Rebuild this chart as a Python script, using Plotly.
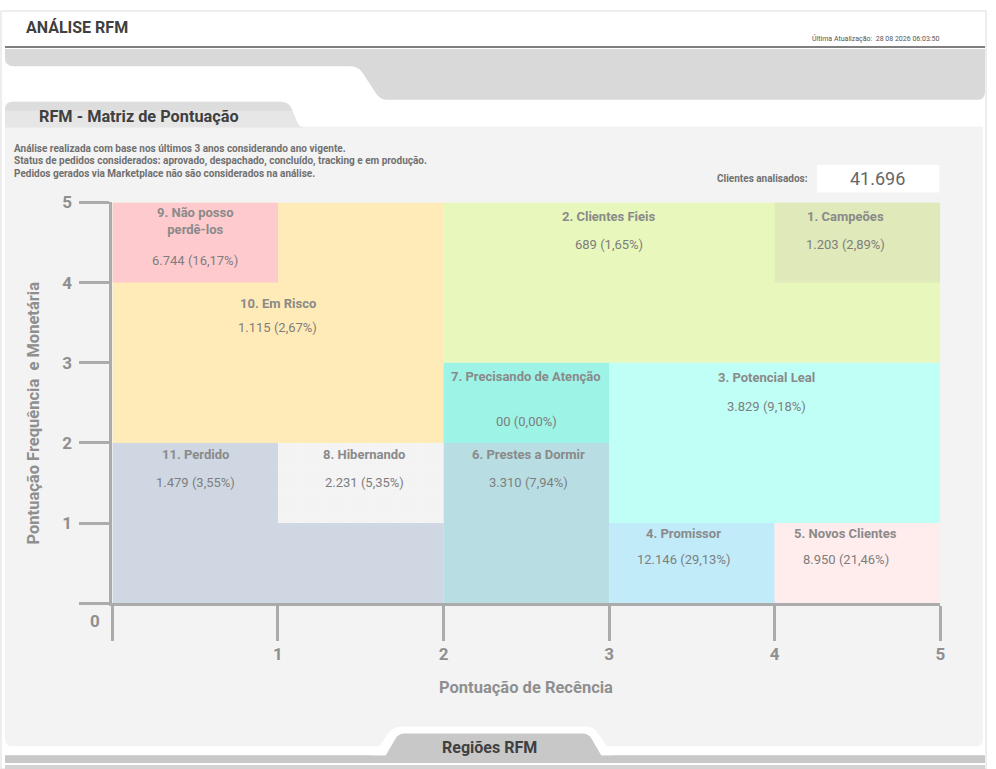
import plotly.graph_objects as go

# ---------------- data ----------------
segments = ["1. Campeões", "2. Clientes Fieis", "3. Potencial Leal", "4. Promissor",
            "5. Novos Clientes", "6. Prestes a Dormir", "7. Precisando de Atenção",
            "8. Hibernando", "9. Não posso<br>perdê-los", "10. Em Risco", "11. Perdido"]
counts = [1203, 689, 3829, 12146, 8950, 3310, 0, 2231, 6744, 1115, 1479]
pcts = [2.89, 1.65, 9.18, 29.13, 21.46, 7.94, 0.00, 5.35, 16.17, 2.67, 3.55]
# score ranges of each region (recency x, frequency&monetary y)
rec_min = [4, 2, 3, 3, 4, 2, 2, 1, 0, 0, 0]
rec_max = [5, 5, 5, 4, 5, 3, 3, 2, 1, 2, 2]
fm_min = [4, 3, 1, 0, 0, 0, 2, 1, 4, 2, 0]
fm_max = [5, 5, 3, 1, 1, 2, 3, 2, 5, 5, 2]
total_clients = 41696
tick_vals = [0, 1, 2, 3, 4, 5]
tick_text = ["", "1", "2", "3", "4", "5"]

# ---------------- styles ----------------
colors = ["#DFE9B9", "#E8F7BB", "#C0FFF6", "#C2EBFA", "#FFEDED", "#B8DEE4",
          "#9DF3E6", "#F1F1F1", "#FFCACD", "#FFEBB7", "#CFD8E2"]
# label anchors (x, title y, value y) in axis units
label_pos = [(4.43, 4.82, 4.47), (3.0, 4.82, 4.47), (3.95, 2.82, 2.45), (3.45, 0.87, 0.54),
             (4.43, 0.87, 0.54), (2.51, 1.86, 1.51), (2.50, 2.83, 2.27), (1.52, 1.86, 1.51),
             (0.50, 4.77, 4.27), (1.00, 3.74, 3.44), (0.50, 1.86, 1.51)]

W, H = 996, 769
def X(p): return p / W
def Y(p): return 1 - p / H

FONT = "Roboto"
AX = "#ABABAB"


def fmt_int(n):
    if n == 0:
        return "00"
    return f"{n:,}".replace(",", ".")


def fmt_pct(p):
    return f"{p:.2f}".replace(".", ",") + "%"


fig = go.Figure()

order = sorted(range(len(segments)),
               key=lambda i: -(rec_max[i] - rec_min[i]) * (fm_max[i] - fm_min[i]))
for i in order:
    extra = {}
    if i == 7:
        extra["fillpattern"] = dict(shape=".", bgcolor=colors[i], fgcolor="#FFFFFF",
                                    size=3, solidity=0.35)
    fig.add_trace(go.Scatter(
        x=[rec_min[i], rec_max[i], rec_max[i], rec_min[i], rec_min[i]],
        y=[fm_min[i], fm_min[i], fm_max[i], fm_max[i], fm_min[i]],
        mode="lines", fill="toself", fillcolor=colors[i],
        line=dict(width=0, color=colors[i]), hoverinfo="skip", showlegend=False, **extra))

annotations = []


def note(px, py, text, size, color, xanchor="center", **kw):
    annotations.append(dict(x=X(px), y=Y(py), xref="paper", yref="paper", text=text,
                            xanchor=xanchor, yanchor="middle", showarrow=False,
                            font=dict(family=FONT, size=size, color=color), **kw))


for i, name in enumerate(segments):
    lx, ty, vy = label_pos[i]
    annotations.append(dict(x=lx, y=ty, xref="x", yref="y", text=f"<b>{name}</b>",
                            xanchor="center", yanchor="middle",
                            showarrow=False, font=dict(family=FONT, size=13, color="#8A8A8A")))
    annotations.append(dict(x=lx, y=vy, xref="x", yref="y",
                            text=f"{fmt_int(counts[i])} ({fmt_pct(pcts[i])})",
                            xanchor="center", yanchor="middle",
                            showarrow=False, font=dict(family=FONT, size=13, color="#7E7E7E")))

# origin label
note(95, 619, "<b>0</b>", 17, "#8F8F8F")
# axis titles
note(529, 686, "<b>Pontuação de Recência</b>", 16.5, "#8F8F8F")
note(34, 408, "<b>Pontuação Frequência  e Monetária</b>", 16.5, "#8F8F8F", textangle=-90)
# header texts
note(24, 18, "<b>ANÁLISE RFM</b>", 16, "#404040", xanchor="left")
note(946, 29, "Última Atualização:  28 08 2026 06:03:50", 7, "#555555", xanchor="right")
note(140, 108, "<b>RFM - Matriz de Pontuação</b>", 16.3, "#404040")
notes = ["Análise realizada com base nos últimos 3 anos considerando ano vigente.",
         "Status de pedidos considerados: aprovado, despachado, concluído, tracking e em produção.",
         "Pedidos gerados via Marketplace não são considerados na análise."]
for k, t in enumerate(notes):
    note(12, 140 + 13 * k, f"<b>{t}</b>", 10, "#707070", xanchor="left")
note(814, 171, "<b>Clientes analisados:</b>", 10, "#707070", xanchor="right")
note(882, 171, fmt_int(total_clients), 18, "#666666")
note(492, 747, "<b>Regiões RFM</b>", 16, "#404040")


def path(pts_cmds):
    out = []
    for c in pts_cmds:
        if isinstance(c, str):
            out.append(c)
        else:
            out.append(f"{X(c[0]):.5f},{Y(c[1]):.5f}")
    return " ".join(out)


shapes = []
# outer frame
shapes.append(dict(type="rect", xref="paper", yref="paper", x0=X(1), x1=X(991), y0=Y(769), y1=Y(1),
                   line=dict(color="#DDDDDD", width=1), fillcolor="white", layer="below"))
# header line
shapes.append(dict(type="line", xref="paper", yref="paper", x0=X(5), x1=X(990), y0=Y(37.5), y1=Y(37.5),
                   line=dict(color="#7F7F7F", width=2), layer="below"))
# gray band
shapes.append(dict(type="path", xref="paper", yref="paper", layer="below",
                   path=path(["M", (5, 39.5), "L", (990, 39.5), "L", (990, 83), "Q", (990, 91), (982, 91),
                              "L", (390, 91), "Q", (381, 91), (377, 83), "L", (364, 63),
                              "Q", (360, 57), (351, 57), "L", (14, 57), "Q", (5, 57), (5, 49), "Z"]),
                   fillcolor="#D9D9D9", line=dict(width=0)))
# main panel
shapes.append(dict(type="path", xref="paper", yref="paper", layer="below",
                   path=path(["M", (5, 118), "L", (988, 118), "L", (988, 738), "Q", (988, 746), (980, 746),
                              "L", (13, 746), "Q", (5, 746), (5, 738), "Z"]),
                   fillcolor="#F3F3F3", line=dict(width=0)))
# tab of panel (two tones for a soft gradient)
shapes.append(dict(type="path", xref="paper", yref="paper", layer="below",
                   path=path(["M", (5, 119), "L", (5, 101), "Q", (5, 93), (13, 93), "L", (282, 93),
                              "Q", (290, 93), (293, 100), "L", (299, 114), "Q", (301, 119), (308, 119), "Z"]),
                   fillcolor="#E6E6E6", line=dict(width=0)))
shapes.append(dict(type="path", xref="paper", yref="paper", layer="below",
                   path=path(["M", (5, 102), "L", (5, 101), "Q", (5, 93), (13, 93), "L", (282, 93),
                              "Q", (290, 93), (293, 100), "L", (294, 102), "Z"]),
                   fillcolor="#DDDDDD", line=dict(width=0)))
# clientes box
shapes.append(dict(type="rect", xref="paper", yref="paper", layer="below",
                   x0=X(821), x1=X(944), y0=Y(185), y1=Y(157), fillcolor="white", line=dict(width=0)))
# bottom bands
shapes.append(dict(type="rect", xref="paper", yref="paper", layer="below",
                   x0=X(5), x1=X(990), y0=Y(763), y1=Y(755), fillcolor="#C8C8C8", line=dict(width=0)))
shapes.append(dict(type="rect", xref="paper", yref="paper", layer="below",
                   x0=X(5), x1=X(990), y0=Y(769), y1=Y(765), fillcolor="#D3D3D3", line=dict(width=0)))
# white outline of bottom tab
shapes.append(dict(type="path", xref="paper", yref="paper", layer="below",
                   path=path(["M", (375, 755), "L", (390, 733), "Q", (395, 726), (404, 726), "L", (588, 726),
                              "Q", (597, 726), (601, 733), "L", (616, 755), "Z"]),
                   fillcolor="white", line=dict(width=0)))
shapes.append(dict(type="path", xref="paper", yref="paper", layer="below",
                   path=path(["M", (386, 758), "L", (397, 739), "Q", (400, 733), (407, 733), "L", (585, 733),
                              "Q", (592, 733), (595, 739), "L", (606, 758), "Z"]),
                   fillcolor="#C8C8C8", line=dict(width=0)))

axis_common = dict(range=[0, 5], tickmode="array", tickvals=tick_vals, ticktext=tick_text,
                   showgrid=False, zeroline=False, showline=True, linecolor=AX, linewidth=3,
                   ticks="outside", tickcolor=AX, tickwidth=3,
                   tickfont=dict(family=FONT, size=17, color="#8F8F8F", weight="bold"),
                   fixedrange=True)

fig.update_layout(
    width=W, height=H, margin=dict(l=0, r=0, t=0, b=0),
    paper_bgcolor="white", plot_bgcolor="rgba(0,0,0,0)",
    xaxis=dict(domain=[X(113), X(945)], ticklen=35, ticklabelstandoff=-2, **axis_common),
    yaxis=dict(domain=[Y(601), Y(195)], ticklen=30, ticklabelstandoff=4, **axis_common),
    shapes=shapes, annotations=annotations, showlegend=False,
)

fig.write_html(
    "out.html", config={"displayModeBar": False},
    post_script=("var d=document.getElementById('{plot_id}');"
                 "d.style.position='fixed';d.style.top='0px';d.style.left='0px';"
                 "document.body.style.margin='0';document.body.style.padding='0';"
                 "document.documentElement.style.overflow='hidden';"
                 "document.body.style.overflow='hidden';"))
